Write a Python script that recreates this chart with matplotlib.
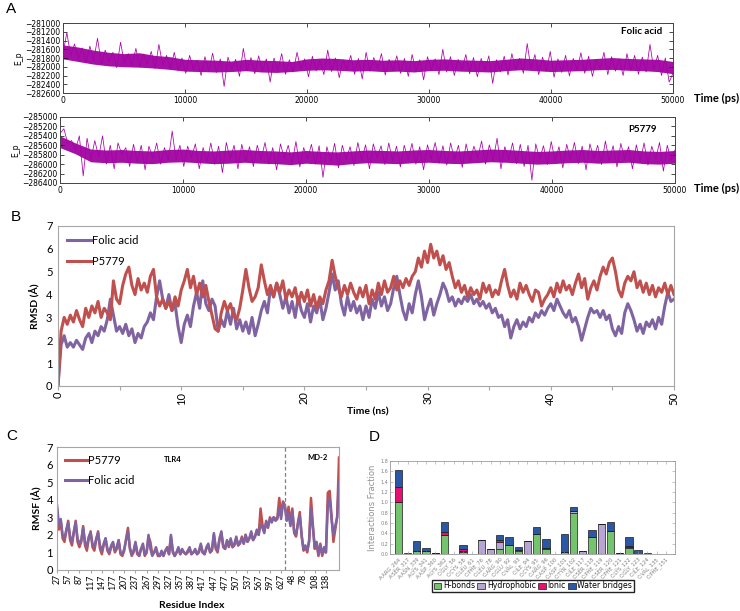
import numpy as np
import matplotlib
matplotlib.use("Agg")
import matplotlib.pyplot as plt
from matplotlib.patches import Patch
from matplotlib.lines import Line2D

W, H = 740, 611

# ---------------- data ----------------
# A: potential energy traces, typed as offsets from a baseline (kJ/mol)
e_folic_base = -282000
e_folic_off = [
    300, 780, 250, 520, 180, 430, 90, 470, 150, 650,
    60, 380, 120, 330, -20, 560, 80, 300, 30, 420,
    0, 290, 60, 350, -40, 510, 20, 260, -60, 330,
    -90, 200, -150, 260, -60, 150, -200, 230, -100, 310,
    -130, 180, -450, 220, -60, 170, -220, 420, -90, 210,
    -160, 250, -110, 180, -350, 200, -80, 300, -170, 160,
    -120, 330, -60, 180, -230, 240, -90, 150, -180, 380,
    -110, 200, -250, 160, -60, 260, -170, 190, -280, 330,
    -100, 210, -40, 300, -190, 170, -90, 250, -150, 190,
    -220, 280, -100, 160, -300, 230, -70, 180, -180, 400,
    -120, 230, -200, 170, -60, 280, -160, 210, -230, 190,
    -80, 250, -380, 160, -120, 240, -190, 300, -70, 190,
    -150, 530, -60, 280, -180, 220, -100, 350, -240, 180,
    -130, 260, -210, 190, -70, 320, -150, 240, -220, 170,
    -60, 330, -180, 230, -100, 180, -200, 300, -90, 260,
    -170, 220, -120, 510, -60, 260, -200, 200, -350, -150,
]
# dense core of the folic acid trace, every 1250 ps
e_folic_core_hi = [500, 450, 380, 330, 300, 320, 260, 230, 170, 160, 150,
                   130, 170, 150, 140, 120, 180, 200, 190, 160, 170, 150,
                   160, 140, 170, 180, 160, 150, 140, 170, 200, 180, 150,
                   160, 170, 190, 210, 190, 180, 170, 120]
e_folic_core_lo = [180, 120, 60, 20, 0, -10, -30, -60, -100, -110, -120,
                   -110, -90, -120, -130, -110, -80, -70, -80, -100, -90,
                   -110, -100, -120, -90, -80, -100, -110, -120, -90, -70,
                   -90, -110, -100, -90, -70, -60, -80, -90, -110, -160]

e_p5779_base = -285800
e_p5779_off = [
    450, 550, 250, 300, 100, 400, -450, 350, -100, 300,
    -50, 400, -200, 200, -300, 250, 0, 150, -250, 220,
    -150, 200, -320, 180, -80, 250, -200, 150, -120, 500,
    -100, 200, -250, 180, -50, 230, -300, 150, -150, 250,
    -200, 180, -380, 260, -100, 200, -300, 220, -150, 170,
    -250, 200, -100, 260, -200, 150, -320, 230, -80, 200,
    -180, 280, -260, 150, -90, 220, -200, 190, -480, 170,
    -150, 240, -280, 200, -100, 170, -230, 260, -120, 210,
    -300, 230, -70, 190, -210, 250, -130, 180, -260, 200,
    -100, 240, -200, 170, -320, 210, -90, 260, -180, 190,
    -220, 250, -110, 200, -270, 230, -150, 180, -60, 290,
    -200, 210, -120, 350, -300, 170, -100, 250, -190, 220,
    -250, 200, -540, 230, -90, 190, -210, 280, -130, 170,
    -280, 220, -100, 260, -190, 180, -320, 230, -80, 200,
    -210, 290, -130, 190, -260, 240, -100, 170, -300, 210,
    -150, 250, -220, 180, -90, 260, -350, 200, -120, 100,
]
e_p5779_core_hi = [400, 250, 120, 100, 110, 90, 80, 110, 120, 90, 80,
                   100, 110, 90, 80, 60, 90, 70, 60, 80, 100, 90,
                   80, 100, 110, 90, 80, 100, 120, 110, 90, 70, 80,
                   100, 110, 90, 100, 110, 80, 70, 90]
e_p5779_core_lo = [150, 20, -150, -170, -160, -180, -190, -160, -150, -170,
                   -190, -180, -160, -180, -190, -210, -180, -200, -220,
                   -190, -170, -180, -190, -170, -160, -180, -190, -170,
                   -150, -160, -180, -200, -190, -170, -160, -180, -170,
                   -160, -190, -200, -180]

# B: RMSD (Angstrom), one value every 0.25 ns from 0 to 50 ns
rmsd_folic = [
    0.0, 1.8, 2.2, 1.7, 1.9, 1.7, 2.0, 1.8, 1.6, 2.1, 2.3, 1.9,
    2.4, 2.2, 2.6, 2.4, 2.9, 3.8, 3.1, 2.4, 2.6, 2.3, 2.7, 2.2,
    2.5, 1.9, 2.3, 2.1, 2.6, 2.8, 3.2, 2.9, 3.9, 4.6, 3.8, 3.4,
    4.0, 3.3, 3.6, 2.6, 1.9, 2.7, 3.1, 2.6, 3.5, 4.1, 3.4, 4.6,
    3.6, 3.3, 3.8, 3.5, 2.4, 2.9, 2.6, 3.3, 2.7, 3.4, 2.5, 2.9,
    2.4, 2.8, 2.3, 3.0, 2.2, 2.7, 3.3, 3.7, 3.2, 4.3, 3.9, 4.5,
    4.0, 3.4, 3.9, 3.2, 3.7, 3.0, 3.9, 3.3, 3.0, 3.6, 2.8, 3.5,
    3.2, 3.8, 2.9, 3.4, 4.1, 4.9, 4.2, 4.6, 3.6, 3.1, 3.9, 3.3,
    3.7, 3.2, 3.5, 2.9, 3.5, 3.0, 3.8, 3.4, 4.1, 3.5, 3.9, 3.3,
    3.6, 4.3, 4.8, 4.0, 3.3, 2.9, 3.6, 3.2, 4.0, 4.6, 3.9, 2.9,
    3.4, 3.8, 3.1, 3.6, 4.0, 4.5, 4.2, 3.7, 3.9, 3.5, 3.8, 3.6,
    3.9, 3.7, 4.0, 3.6, 3.8, 3.5, 3.7, 3.4, 3.6, 3.2, 3.4, 3.0,
    3.1, 2.6, 2.9, 2.1, 2.6, 2.9, 2.5, 2.8, 2.6, 3.0, 2.8, 3.2,
    3.0, 3.3, 3.1, 3.4, 3.6, 3.3, 3.8, 3.5, 3.2, 3.0, 3.3, 2.8,
    3.0, 2.6, 2.0, 2.5, 3.0, 3.4, 3.2, 3.3, 3.0, 3.3, 2.9, 3.1,
    2.5, 2.2, 2.6, 2.3, 3.2, 3.6, 3.3, 2.9, 2.4, 2.7, 2.3, 2.8,
    2.6, 2.9, 2.5, 3.0, 2.7, 3.5, 4.1, 3.7, 3.8,
]
rmsd_p5779 = [
    0.0, 2.4, 3.0, 2.7, 3.1, 2.8, 3.3, 2.9, 2.6, 3.4, 3.0, 3.5,
    3.2, 3.7, 3.0, 3.4, 3.2, 2.9, 4.6, 3.8, 3.6, 4.4, 4.9, 5.2,
    4.4, 4.0, 4.7, 4.2, 4.5, 4.1, 4.8, 5.1, 3.9, 3.5, 3.8, 3.4,
    3.7, 3.3, 3.9, 3.5, 4.2, 4.6, 5.1, 4.3, 4.8, 4.0, 4.5, 3.9,
    4.4, 3.7, 3.1, 2.5, 2.4, 3.2, 3.7, 3.3, 3.6, 3.1, 2.9, 3.4,
    4.2, 5.1, 4.3, 3.7, 3.9, 4.3, 5.3, 4.6, 4.0, 4.4, 3.9, 4.5,
    4.1, 4.6, 3.8, 4.2, 3.9, 4.3, 3.6, 4.1, 3.7, 4.2, 3.5, 4.0,
    3.4, 3.9, 3.6, 4.2, 4.6, 5.5, 4.8, 4.3, 3.9, 4.4, 4.0, 4.5,
    4.1, 3.8, 4.3, 3.9, 4.4, 3.6, 4.2, 3.8, 4.5, 4.0, 4.6, 4.1,
    4.3, 4.8, 4.2, 4.6, 4.3, 4.7, 4.4, 4.8, 5.0, 5.6, 5.2, 5.9,
    5.4, 6.2, 5.6, 5.9, 5.3, 5.7, 5.1, 5.4, 4.8, 4.3, 4.6, 4.1,
    4.4, 3.9, 4.3, 4.0, 4.2, 3.8, 4.5, 4.1, 4.4, 3.9, 4.2, 4.0,
    4.6, 5.1, 4.4, 3.9, 4.2, 3.8, 4.5, 4.1, 4.4, 4.0, 3.7, 4.2,
    4.1, 3.5, 3.8, 4.0, 4.3, 3.9, 4.5, 4.1, 4.6, 4.2, 4.4, 4.0,
    4.5, 4.9, 4.3, 4.7, 3.8, 4.3, 4.6, 4.2, 4.8, 5.2, 4.9, 5.4,
    5.6, 5.0, 4.2, 3.9, 4.5, 4.8, 4.6, 5.0, 4.3, 4.6, 4.1, 4.5,
    4.0, 4.4, 3.9, 4.3, 4.1, 4.5, 4.0, 4.4, 4.0,
]

# C: RMSF (Angstrom), every 5th residue along the TLR4+MD-2 index
rmsf_folic = [
    3.7, 2.6, 2.9, 2.0, 1.8, 2.3, 2.7, 1.9, 1.6, 2.2,
    2.7, 1.8, 1.5, 1.7, 2.4, 1.6, 1.3, 1.9, 2.1, 1.5,
    1.3, 1.8, 2.1, 1.4, 1.1, 1.5, 1.8, 1.2, 1.0, 1.4,
    1.6, 1.1, 1.3, 1.7, 1.0, 0.9, 1.2, 1.7, 2.2, 1.3,
    0.9, 1.1, 1.6, 1.0, 0.8, 1.2, 1.5, 0.9, 1.0, 2.0,
    1.2, 0.8, 1.0, 1.3, 0.9, 0.8, 1.1, 0.8, 1.1, 1.2,
    0.9, 2.0, 1.1, 0.8, 1.0, 1.3, 0.9, 1.2, 1.0, 0.9,
    1.1, 1.3, 0.9, 1.0, 1.2, 0.9, 1.1, 1.5, 1.0, 0.9,
    1.3, 1.5, 1.0, 1.2, 2.1, 1.3, 1.1, 1.8, 2.2, 1.4,
    1.2, 1.7, 1.4, 1.8, 1.3, 1.5, 1.9, 1.4, 1.6, 1.8,
    1.5, 2.0, 1.6, 1.8, 2.2, 1.7, 1.9, 2.3, 2.0, 2.6,
    2.4, 2.1, 2.8, 2.5, 2.9, 2.7, 3.0, 2.8, 2.9, 3.5,
    2.9, 3.8, 3.6, 2.8, 3.2, 2.5, 3.4, 2.2, 2.0, 2.6,
    3.1, 2.0, 1.2, 1.4, 1.1, 1.6, 3.5, 2.4, 1.3, 1.6,
    0.9, 1.4, 0.9, 1.3, 1.0, 3.6, 4.1, 2.9, 2.0, 2.5,
    3.0, 5.0,
]
rmsf_p5779 = [
    3.5, 2.3, 2.8, 1.8, 1.6, 2.2, 2.8, 1.7, 1.4, 2.1,
    2.8, 1.6, 1.3, 1.6, 2.5, 1.4, 1.1, 1.8, 2.2, 1.3,
    1.1, 1.7, 2.2, 1.2, 0.9, 1.4, 1.8, 1.1, 0.9, 1.3,
    1.5, 1.0, 1.2, 1.7, 0.9, 0.8, 1.1, 1.8, 2.4, 1.2,
    0.8, 1.0, 1.5, 0.9, 0.8, 1.2, 1.4, 0.8, 1.0, 1.9,
    1.6, 0.9, 1.0, 1.2, 0.8, 0.8, 1.0, 0.8, 1.1, 1.3,
    0.9, 1.9, 1.0, 0.8, 1.0, 1.2, 0.9, 1.1, 1.0, 0.9,
    1.0, 1.2, 0.9, 1.0, 1.1, 0.9, 1.0, 1.4, 1.0, 0.9,
    1.2, 1.4, 1.0, 1.1, 2.0, 1.2, 1.0, 1.7, 2.1, 1.3,
    1.2, 1.6, 1.3, 1.7, 1.3, 1.4, 1.8, 1.4, 1.5, 1.9,
    1.5, 2.0, 1.6, 1.8, 2.1, 1.7, 1.9, 2.2, 2.0, 3.5,
    2.6, 2.2, 2.7, 2.4, 3.0, 2.8, 3.0, 2.9, 3.0, 4.1,
    3.1, 3.9, 3.7, 2.9, 3.6, 2.6, 3.5, 2.1, 1.9, 2.7,
    3.3, 1.9, 1.1, 1.3, 1.0, 1.7, 4.1, 2.6, 1.2, 1.5,
    0.8, 1.5, 0.8, 1.2, 1.0, 4.4, 4.5, 3.1, 1.6, 2.3,
    3.0, 6.4,
]
rmsf_step = 5
residue_ticks = ["27", "57", "87", "117", "147", "177", "207", "237", "267",
                 "297", "327", "357", "387", "417", "447", "477", "507",
                 "537", "567", "597", "627", "48", "78", "108", "138"]
tick_every = 30
boundary_idx = 611

# D: protein-ligand contacts
contacts = ["A:ARG_264", "A:SER_317", "A:ASN_339", "A:LYS_341", "A:ASP_360",
            "A:LYS_362", "C:GLY_56", "C:CYS_58", "C:LEU_61", "C:PHE_76",
            "C:LEU_78", "C:ARG_90", "C:GLU_92", "C:VAL_93", "C:ILE_94",
            "C:CYS_95", "C:ARG_96", "C:ASP_100", "C:ASP_101", "C:TYR_102",
            "C:ILE_117", "C:SER_118", "C:PHE_119", "C:SER_120", "C:PHE_121",
            "C:LYS_122", "C:GLY_123", "C:ILE_124", "C:VAL_135", "C:PHE_151"]
hbonds = [1.00, 0.00, 0.05, 0.05, 0.01, 0.37, 0.00, 0.04, 0.00, 0.00,
          0.00, 0.09, 0.18, 0.05, 0.00, 0.38, 0.10, 0.00, 0.03, 0.80,
          0.00, 0.33, 0.00, 0.44, 0.00, 0.11, 0.00, 0.00, 0.00, 0.00]
hydrophobic = [0.00, 0.00, 0.00, 0.00, 0.00, 0.00, 0.00, 0.02, 0.00, 0.27,
               0.10, 0.15, 0.00, 0.02, 0.25, 0.00, 0.02, 0.00, 0.00, 0.03,
               0.05, 0.00, 0.59, 0.00, 0.02, 0.03, 0.00, 0.00, 0.005, 0.005]
ionic = [0.30, 0.00, 0.00, 0.00, 0.00, 0.05, 0.00, 0.03, 0.00, 0.00,
         0.00, 0.04, 0.00, 0.00, 0.00, 0.00, 0.00, 0.00, 0.00, 0.00,
         0.00, 0.00, 0.00, 0.00, 0.00, 0.01, 0.00, 0.00, 0.00, 0.00]
water_bridges = [0.32, 0.02, 0.21, 0.07, 0.00, 0.19, 0.00, 0.09, 0.00, 0.00,
                 0.00, 0.08, 0.14, 0.07, 0.00, 0.15, 0.17, 0.00, 0.36, 0.08,
                 0.00, 0.13, 0.00, 0.17, 0.00, 0.17, 0.07, 0.01, 0.00, 0.00]

# ---------------- helpers ----------------
XL = "Lato"
GRAY = "#a6a6a6"
PURPLE = "#8064A2"
RED = "#C0504D"
MAGENTA = "#a900a9"


def box(l, t, r, b):
    return [l / W, 1 - b / H, (r - l) / W, (b - t) / H]


def ftext(x, y, s, **kw):
    fig.text(x / W, 1 - y / H, s, **kw)


fig = plt.figure(figsize=(W / 100, H / 100), dpi=100)

# ---------------- A ----------------
def energy_panel(rect, base, offs, core_hi, core_lo, ylo, yhi, name, name_xy):
    ax = fig.add_axes(box(*rect))
    t = np.linspace(0, 50000, len(offs))
    tc = np.linspace(0, 50000, len(core_hi))
    ax.fill_between(tc, base + np.array(core_lo), base + np.array(core_hi),
                    color="#a510a5", lw=0)
    ax.plot(t, base + np.array(offs), color=MAGENTA, lw=0.55)
    ax.set_xlim(0, 50000)
    ax.set_ylim(ylo, yhi)
    ax.set_xticks(np.arange(0, 50001, 10000))
    ax.set_yticks(np.arange(ylo, yhi + 1, 200))
    ax.tick_params(direction="in", top=True, right=True, length=3,
                   width=0.5, labelsize=5.5, pad=2)
    ax.set_ylabel("E_p", fontsize=5.5, labelpad=1)
    for s in ax.spines.values():
        s.set_linewidth(0.7)
        s.set_color("#444444")
    ftext(name_xy[0], name_xy[1], name, fontsize=7, fontweight="bold",
          family=XL, ha="right", va="center")
    return ax

energy_panel((63, 23, 673, 93), e_folic_base, e_folic_off, e_folic_core_hi,
             e_folic_core_lo, -282600, -281000, "Folic acid", (662, 32))
energy_panel((60, 117, 675, 183), e_p5779_base, e_p5779_off, e_p5779_core_hi,
             e_p5779_core_lo, -286400, -285000, "P5779", (657, 129))
ftext(694, 98, "Time (ps)", fontsize=8, fontweight="bold", family=XL, va="center")
ftext(694, 188, "Time (ps)", fontsize=8, fontweight="bold", family=XL, va="center")

# ---------------- B ----------------
axb = fig.add_axes(box(58, 226, 674, 386))
tb = np.linspace(0, 50, len(rmsd_folic))
axb.plot(tb, rmsd_folic, color=PURPLE, lw=2.2)
axb.plot(tb, rmsd_p5779, color=RED, lw=2.2)
axb.set_xlim(0, 50)
axb.set_ylim(0, 7)
axb.set_xticks(np.arange(0, 51, 5))
axb.set_xticklabels([str(v) if v % 10 == 0 else "" for v in range(0, 51, 5)],
                    rotation=90, family=XL, fontsize=8)
axb.set_yticks(range(0, 8))
axb.set_yticklabels([str(v) for v in range(0, 8)], family=XL, fontsize=8)
axb.tick_params(axis="x", direction="out", length=3, color=GRAY, pad=1)
axb.tick_params(axis="y", length=0, pad=4)
for s in axb.spines.values():
    s.set_color(GRAY)
axb.set_ylabel("RMSD (Å)", family=XL, fontsize=7.5, fontweight="bold", labelpad=4)
ftext(368, 412, "Time (ns)", family=XL, fontsize=7.5, fontweight="bold",
      ha="center", va="center")
axb.legend(handles=[Line2D([], [], color=PURPLE, lw=2.2),
                    Line2D([], [], color=RED, lw=2.2)],
           labels=["Folic acid", "P5779"], loc="upper left", frameon=False,
           prop={"family": XL, "size": 8}, handlelength=2.2, handletextpad=0.1,
           labelspacing=0.9, borderaxespad=0.4)

# ---------------- C ----------------
axc = fig.add_axes(box(57, 447, 339, 570))
ic = np.arange(len(rmsf_folic)) * rmsf_step
axc.plot(ic, rmsf_p5779, color=RED, lw=1.8)
axc.plot(ic, rmsf_folic, color=PURPLE, lw=1.8)
axc.axvline(boundary_idx, color="#808080", lw=0.9, ls=(0, (3, 2)))
axc.set_xlim(0, ic[-1])
axc.set_ylim(0, 7)
axc.set_xticks(np.arange(len(residue_ticks)) * tick_every)
axc.set_xticklabels(residue_ticks, rotation=90, family=XL, fontsize=6.3)
axc.set_yticks(range(0, 8))
axc.set_yticklabels([str(v) for v in range(0, 8)], family=XL, fontsize=8)
axc.tick_params(axis="x", direction="out", length=2, color=GRAY, pad=1)
axc.tick_params(axis="y", length=0, pad=3)
for s in axc.spines.values():
    s.set_color(GRAY)
axc.set_ylabel("RMSF (Å)", family=XL, fontsize=7.5, fontweight="bold", labelpad=3)
ftext(192, 605, "Residue Index", family=XL, fontsize=7.5, fontweight="bold",
      ha="center", va="center")
ftext(173, 459, "TLR4", family=XL, fontsize=5.5, fontweight="bold",
      ha="center", va="center")
ftext(317, 458, "MD-2", family=XL, fontsize=5.5, fontweight="bold",
      ha="center", va="center")
axc.legend(handles=[Line2D([], [], color=RED, lw=2.2),
                    Line2D([], [], color=PURPLE, lw=2.2)],
           labels=["P5779", "Folic acid"], loc="upper left", frameon=False,
           prop={"family": XL, "size": 8}, handlelength=2.0, handletextpad=0.1,
           labelspacing=0.8, borderaxespad=0.3)

# ---------------- D ----------------
axd = fig.add_axes(box(390, 461, 675, 554))
xd = np.arange(len(contacts))
colors_d = {"H-bonds": "#74c46e", "Hydrophobic": "#b7a6d3",
            "Ionic": "#e5106f", "Water bridges": "#2b58a4"}
bottom = np.zeros(len(contacts))
for key, vals in [("H-bonds", hbonds), ("Hydrophobic", hydrophobic),
                  ("Ionic", ionic), ("Water bridges", water_bridges)]:
    v = np.array(vals)
    axd.bar(xd, v, width=0.8, bottom=bottom, color=colors_d[key],
            edgecolor="#1a1a1a", linewidth=0.5)
    bottom = bottom + v
axd.set_xlim(-0.9, 30.0)
axd.set_ylim(0, 1.8)
axd.set_yticks(np.arange(0, 1.81, 0.2))
axd.set_yticklabels(["%.1f" % v for v in np.arange(0, 1.81, 0.2)],
                    fontsize=3.5, color="#808080")
axd.set_xticks(xd)
axd.set_xticklabels(contacts, rotation=45, ha="right", fontsize=3.8,
                    color="#808080", rotation_mode="anchor")
axd.tick_params(direction="in", top=True, right=True, length=2, width=0.4,
                color="#999999", pad=1.5)
for s in axd.spines.values():
    s.set_color("#999999")
    s.set_linewidth(0.6)
axd.set_ylabel("Interactions Fraction", fontsize=6, color="#909090", labelpad=2)
fig.legend(handles=[Patch(facecolor=colors_d[k], edgecolor="#1a1a1a", lw=0.5)
                    for k in colors_d],
           labels=list(colors_d), loc="center", ncol=4,
           bbox_to_anchor=(533 / W, 1 - 586 / H), fontsize=5.6,
           handlelength=1.0, handleheight=0.9, handletextpad=0.2,
           columnspacing=0.3, borderpad=0.15, fancybox=False,
           edgecolor="#222222", framealpha=1)

# panel letters
for letter, (x, y) in {"A": (11, 9), "B": (16, 217), "C": (12, 436),
                       "D": (374, 437)}.items():
    ftext(x, y, letter, fontsize=11, family="Liberation Sans",
          ha="center", va="center")

fig.savefig("out.png", dpi=100)
